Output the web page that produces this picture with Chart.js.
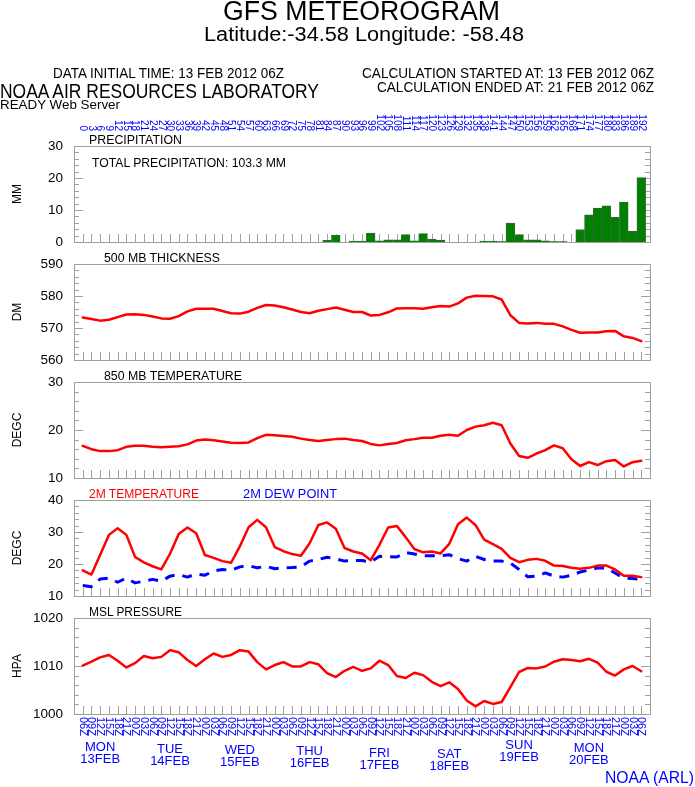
<!DOCTYPE html>
<html>
<head>
<meta charset="utf-8">
<script src="https://cdn.jsdelivr.net/npm/chart.js"></script>
<style>
  body { margin: 0; background: #fff; width: 695px; height: 787px; overflow: hidden; position: relative;
         font-family: "Liberation Sans", Arial, sans-serif; }
  canvas { position: absolute; left: 0; top: 0; }
  .t { position: absolute; white-space: nowrap; line-height: 1; transform-origin: 0 0; }
</style>
</head>
<body>
<canvas id="c0" width="695" height="787"></canvas>
<canvas id="c1" width="695" height="787"></canvas>
<canvas id="c2" width="695" height="787"></canvas>
<canvas id="c3" width="695" height="787"></canvas>
<canvas id="c4" width="695" height="787"></canvas>
<script>
// forecast hours (3-hourly from 13 FEB 2012 06Z)
const hours = [0,3,6,9,12,15,18,21,24,27,30,33,36,39,42,45,48,51,54,57,60,63,66,69,72,75,78,81,84,87,90,93,96,
  99,102,105,108,111,114,117,120,123,126,129,132,135,138,141,144,147,150,153,156,159,162,165,168,171,174,177,180,183,186,189,192];
const hourZ = ['06Z','09Z','12Z','15Z','18Z','21Z','00Z','03Z','06Z','09Z','12Z','15Z','18Z','21Z','00Z','03Z',
  '06Z','09Z','12Z','15Z','18Z','21Z','00Z','03Z','06Z','09Z','12Z','15Z','18Z','21Z','00Z','03Z',
  '06Z','09Z','12Z','15Z','18Z','21Z','00Z','03Z','06Z','09Z','12Z','15Z','18Z','21Z','00Z','03Z',
  '06Z','09Z','12Z','15Z','18Z','21Z','00Z','03Z','06Z','09Z','12Z','15Z','18Z','21Z','00Z','03Z','06Z'];
const dayNames = ['MON','TUE','WED','THU','FRI','SAT','SUN','MON'];
const dayDates = ['13FEB','14FEB','15FEB','16FEB','17FEB','18FEB','19FEB','20FEB'];
const dayHours = [6,30,54,78,102,126,150,174];

// precipitation, mm per 3 h
const precip = [0,0,0,0,0,0,0,0,0,0,0,0,0,0,0,0,0,0,0,0,0,0,0,0,0,0,0,0,
  0.5,2.1,0,0.3,0.3,2.8,0.4,0.7,0.7,2.3,0.4,2.6,0.9,0.6,0,0,0,0,0.3,0.3,0.1,
  5.9,2.3,0.7,0.7,0.4,0.1,0.1,0,3.9,8.5,10.6,11.3,7.7,12.5,3.4,20.1];
// 500 mb thickness, dm
const thick = [573.3,572.8,572.3,572.6,573.4,574.2,574.3,574.1,573.6,573.0,572.9,573.7,575.2,576.0,576.0,576.0,
  575.3,574.6,574.5,575.1,576.3,577.2,577.0,576.5,575.8,575.0,574.6,575.4,575.9,576.4,575.7,575.0,575.0,573.9,
  574.1,574.9,576.1,576.2,576.2,576.0,576.5,576.9,576.7,577.7,579.5,580.1,580.0,579.9,578.9,574.0,571.6,571.4,
  571.6,571.3,571.3,570.5,569.4,568.5,568.6,568.6,569.0,569.1,567.4,566.9,565.9];
// 850 mb temperature, degC
const t850 = [16.7,16.0,15.6,15.6,15.8,16.5,16.7,16.7,16.5,16.4,16.5,16.6,17.0,17.8,18.0,17.85,17.6,17.35,17.3,
  17.4,18.3,19.0,18.9,18.75,18.6,18.2,17.9,17.7,17.9,18.1,18.2,17.9,17.7,17.1,16.8,17.1,17.3,17.85,18.1,18.4,
  18.4,18.8,19.0,18.8,20.0,20.7,21.0,21.5,21.0,17.2,14.6,14.2,15.1,15.8,16.8,16.2,13.9,12.5,13.3,12.7,13.5,
  13.75,12.4,13.3,13.6];
// 2 m temperature and dew point, degC
const t2m = [18.0,16.7,22.9,29.1,31.2,29.1,22.2,20.5,19.3,18.3,23.2,29.4,31.4,29.6,22.8,21.9,20.9,20.4,25.5,31.5,
  33.8,31.5,25.3,24.0,23.1,22.6,26.5,32.2,33.0,31.0,25.0,23.9,23.3,21.2,26.0,31.4,31.9,28.4,24.7,23.65,23.9,
  23.3,26.3,32.45,34.5,32.2,27.6,26.2,24.7,21.9,20.55,21.3,21.6,21.0,19.5,19.4,18.8,18.5,18.8,19.5,19.5,18.3,
  16.3,16.3,15.9];
const dew2m = [13.3,12.9,15.3,15.6,14.3,15.6,14.1,14.6,15.2,14.6,16.2,16.7,15.9,16.9,16.5,17.8,18.3,18.0,19.1,
  19.5,18.8,19.3,18.5,18.8,18.9,19.1,20.9,21.4,22.1,21.6,20.9,21.1,21.1,20.6,22.4,22.3,22.2,23.6,23.1,22.6,
  22.6,22.6,22.9,21.7,20.9,22.4,21.4,20.9,20.9,20.3,18.3,16.0,16.2,17.2,16.2,15.9,16.5,17.5,18.1,18.8,18.7,
  17.2,15.6,15.5,15.2];
// mean sea level pressure, hPa
const mslp = [1010.1,1010.9,1011.8,1012.3,1011.1,1009.7,1010.6,1012.1,1011.6,1011.9,1013.3,1012.85,1011.25,
  1010.0,1011.4,1012.6,1011.9,1012.3,1013.3,1013.0,1010.8,1009.3,1010.2,1010.8,1009.9,1009.9,1010.8,1010.35,
  1008.5,1007.7,1009.0,1009.8,1009.0,1009.5,1011.1,1010.2,1007.9,1007.5,1008.6,1008.1,1006.7,1005.8,1006.6,
  1005.2,1002.8,1001.6,1002.7,1002.1,1002.5,1005.6,1008.75,1009.6,1009.5,1009.9,1010.9,1011.4,1011.25,1011.0,
  1011.5,1010.7,1008.8,1008.0,1009.3,1010.0,1008.9];

// page layout
const W = 695, H = 787;
const PLOT_LEFT = 74, PLOT_RIGHT = 650;
const PANEL_TOP = [146, 264, 382, 500, 618], PANEL_H = 96;
const FONT = '"Liberation Sans", Arial, sans-serif';
const GREY = '#a0a0a0', BLUE = '#0000ff', RED = '#ff0000';
const dayDrop = [0, 2, 3, 4, 6, 7, -2, 1];

// text placed by left/right ink edges and baseline
function put(text, x0, x1, base, size, color) {
  const d = document.createElement('div');
  d.className = 't';
  d.textContent = text;
  d.style.fontSize = size + 'px';
  d.style.color = color || '#000';
  document.body.appendChild(d);
  const w = d.getBoundingClientRect().width;
  d.style.left = x0 + 'px';
  d.style.top = (base - 0.847 * size) + 'px';
  d.style.transform = 'scaleX(' + ((x1 - x0) / w).toFixed(4) + ')';
}

put('GFS METEOROGRAM', 223, 500, 21, 27);
put('Latitude:-34.58 Longitude: -58.48', 204, 524, 41, 20);
put('DATA INITIAL TIME: 13 FEB 2012 06Z', 53, 284, 78, 14);
put('CALCULATION STARTED AT: 13 FEB 2012 06Z', 362, 654, 78, 14);
put('CALCULATION ENDED AT: 21 FEB 2012 06Z', 377, 654, 92, 14);
put('NOAA AIR RESOURCES LABORATORY', 0, 319, 98, 20);
put('READY Web Server', 0, 120, 109, 13);
put('PRECIPITATION', 89, 182, 145, 12.5);
put('TOTAL PRECIPITATION: 103.3 MM', 92, 286, 167, 13);
put('500 MB  THICKNESS', 104, 220, 263, 12.5);
put('850 MB  TEMPERATURE', 104, 242, 381, 12.5);
put('2M TEMPERATURE', 89, 199, 499, 12.5, RED);
put('2M   DEW POINT', 243, 337, 499, 12.5, BLUE);
put('MSL PRESSURE', 89, 182, 617, 12.5);
put('NOAA (ARL)', 605, 694, 783, 17, BLUE);

// panel frame with inward ticks
const framePlugin = {
  id: 'frame',
  beforeDatasetsDraw(chart) {
    const { ctx, chartArea: a, scales: { x, y } } = chart;
    ctx.save();
    ctx.strokeStyle = GREY;
    ctx.lineWidth = 1;
    ctx.beginPath();
    hours.forEach(h => {
      const px = Math.round(x.getPixelForValue(h)) + 0.5;
      ctx.moveTo(px, a.bottom);
      ctx.lineTo(px, a.bottom - 8);
    });
    for (let v = y.min; v <= y.max + 1e-6; v += 2) {
      const py = Math.round(y.getPixelForValue(v)) + 0.5;
      const len = Math.abs(v % 10) < 1e-6 ? 9 : 5;
      ctx.moveTo(a.left, py); ctx.lineTo(a.left + len, py);
      ctx.moveTo(a.right, py); ctx.lineTo(a.right - len, py);
    }
    ctx.stroke();
    ctx.strokeRect(Math.round(a.left) + 0.5, Math.round(a.top) + 0.5,
      Math.round(a.right - a.left), Math.round(a.bottom - a.top));
    ctx.restore();
  }
};

// forecast hour labels above the top panel
const topHoursPlugin = {
  id: 'topHours',
  afterDraw(chart) {
    const { ctx, scales: { x } } = chart;
    ctx.save();
    ctx.fillStyle = BLUE;
    ctx.font = '10px ' + FONT;
    ctx.textAlign = 'right';
    ctx.textBaseline = 'middle';
    hours.forEach(h => {
      ctx.save();
      ctx.translate(x.getPixelForValue(h), 131);
      ctx.rotate(Math.PI / 2);
      ctx.fillText(String(h), 0, 0);
      ctx.restore();
    });
    ctx.restore();
  }
};

// valid time and day labels under the bottom panel
const bottomTimePlugin = {
  id: 'bottomTime',
  afterDraw(chart) {
    const { ctx, scales: { x } } = chart;
    ctx.save();
    ctx.fillStyle = BLUE;
    ctx.font = '11px ' + FONT;
    ctx.textAlign = 'left';
    ctx.textBaseline = 'middle';
    hours.forEach((h, i) => {
      ctx.save();
      ctx.translate(x.getPixelForValue(h), 717);
      ctx.rotate(Math.PI / 2);
      ctx.fillText(hourZ[i], 0, 0);
      ctx.restore();
    });
    ctx.font = '13px ' + FONT;
    ctx.textAlign = 'center';
    ctx.textBaseline = 'alphabetic';
    dayHours.forEach((h, i) => {
      const px = x.getPixelForValue(h);
      ctx.fillText(dayNames[i], px, 751 + dayDrop[i]);
      ctx.fillText(dayDates[i], px, 763 + dayDrop[i]);
    });
    ctx.restore();
  }
};

function panelOptions(idx, ymin, ymax, title) {
  const top = PANEL_TOP[idx];
  return {
    responsive: false,
    animation: false,
    events: [],
    layout: { padding: { top: top, bottom: H - top - PANEL_H, left: 0, right: W - PLOT_RIGHT } },
    plugins: { legend: { display: false }, tooltip: { enabled: false } },
    scales: {
      x: { type: 'linear', min: -3, max: 195, offset: false, display: false },
      y: {
        min: ymin, max: ymax,
        afterFit: s => { s.width = PLOT_LEFT; },
        grid: { display: false, drawTicks: false },
        border: { display: false },
        ticks: { stepSize: 10, color: '#000', padding: 11, font: { family: FONT, size: 13.5 },
                 callback: v => String(v) },
        title: { display: true, text: title, color: '#000', padding: { top: 10 }, font: { family: FONT, size: 12 } }
      }
    }
  };
}

const pts = arr => hours.map((h, i) => ({ x: h, y: arr[i] }));
const lineStyle = { borderWidth: 2.5, pointRadius: 0, tension: 0, borderJoinStyle: 'round', borderCapStyle: 'round' };

new Chart(document.getElementById('c0'), {
  type: 'bar',
  data: { datasets: [{
    data: pts(precip), backgroundColor: '#008000', borderColor: '#2f6a2f', borderWidth: 1,
    barPercentage: 1, categoryPercentage: 1
  }] },
  options: panelOptions(0, 0, 30, 'MM'),
  plugins: [framePlugin, topHoursPlugin]
});

new Chart(document.getElementById('c1'), {
  type: 'line',
  data: { datasets: [{ data: pts(thick), borderColor: RED, ...lineStyle }] },
  options: panelOptions(1, 560, 590, 'DM'),
  plugins: [framePlugin]
});

new Chart(document.getElementById('c2'), {
  type: 'line',
  data: { datasets: [{ data: pts(t850), borderColor: RED, ...lineStyle }] },
  options: panelOptions(2, 10, 30, 'DEGC'),
  plugins: [framePlugin]
});

new Chart(document.getElementById('c3'), {
  type: 'line',
  data: { datasets: [
    { data: pts(t2m), borderColor: RED, ...lineStyle },
    { data: pts(dew2m), borderColor: BLUE, ...lineStyle, borderWidth: 3, borderDash: [10, 8], borderCapStyle: 'butt' }
  ] },
  options: panelOptions(3, 10, 40, 'DEGC'),
  plugins: [framePlugin]
});

new Chart(document.getElementById('c4'), {
  type: 'line',
  data: { datasets: [{ data: pts(mslp), borderColor: RED, ...lineStyle }] },
  options: panelOptions(4, 1000, 1020, 'HPA'),
  plugins: [framePlugin, bottomTimePlugin]
});
</script>
</body>
</html>
